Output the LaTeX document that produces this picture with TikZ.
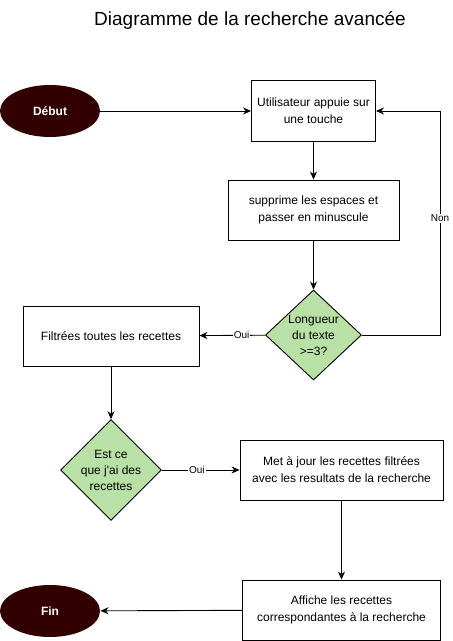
\documentclass[tikz,border=0pt]{standalone}
\usepackage{fontspec}
\setmainfont{Liberation Sans}
\usetikzlibrary{shapes.geometric, arrows.meta, positioning}
\definecolor{brun}{HTML}{330000}
\definecolor{vert}{HTML}{B9E0A5}

\begin{document}
\begin{tikzpicture}[x=1pt,y=1pt,->,>={Stealth[length=8pt,width=7pt]},line width=0.9pt,
  every node/.style={font=\fontsize{12}{17}\selectfont},
  etape/.style={draw,rectangle,fill=white,align=center,inner sep=0pt},
  choix/.style={draw,diamond,fill=vert,align=center,inner sep=0pt,
                font=\fontsize{12}{16}\selectfont},
  borne/.style={ellipse,fill=brun,text=white,minimum width=100pt,
                minimum height=52pt,font=\bfseries\fontsize{12}{14}\selectfont},
  etiq/.style={fill=white,inner sep=1pt,font=\fontsize{10}{12}\selectfont}]
  \useasboundingbox (0,0) rectangle (453,641);
  \node[font=\fontsize{19}{22}\selectfont] (titre) at (250,621) {Diagramme de la recherche avancée};
  % debut et fin
  \node[borne] (debut) at (50,530) {Début};
  \node[borne] (fin) at (50,30) {Fin};
  % etapes
  \node[etape,minimum width=124pt,minimum height=61pt] (touche) at (313.5,530)
    {Utilisateur appuie sur\\une touche};
  \node[etape,minimum width=171pt,minimum height=60pt] (minus) at (313.5,431)
    {supprime les espaces et\\passer en minuscule};
  \node[choix,minimum width=96pt,minimum height=90pt,aspect=1.07] (longueur) at (313.5,306)
    {Longueur\\du texte\\>=3?};
  \node[etape,minimum width=176pt,minimum height=60pt] (filtrees) at (111,305)
    {Filtrées toutes les recettes};
  \node[choix,minimum width=100pt,minimum height=100pt,aspect=1] (avoir) at (111,171)
    {Est ce\\que j\textquotesingle ai des\\recettes};
  \node[etape,minimum width=203pt,minimum height=60pt] (majour) at (341.5,171)
    {Met à jour les recettes filtrées\\avec les resultats de la recherche};
  \node[etape,minimum width=198pt,minimum height=60pt] (affiche) at (341.5,31)
    {Affiche les recettes\\correspondantes à la recherche};
  % liens
  \draw (debut) -- (touche);
  \draw (touche) -- (minus);
  \draw (minus) -- (longueur);
  \draw (longueur.east) -- ++(78,0) |- node[etiq,pos=0.26]{Non} (touche.east);
  \draw (longueur) -- node[etiq,pos=0.36]{Oui} (filtrees);
  \draw (filtrees) -- (avoir);
  \draw (avoir) -- node[etiq,pos=0.45]{Oui} (majour);
  \draw (majour) -- (affiche);
  \draw (affiche) -- (fin);
\end{tikzpicture}
\end{document}
